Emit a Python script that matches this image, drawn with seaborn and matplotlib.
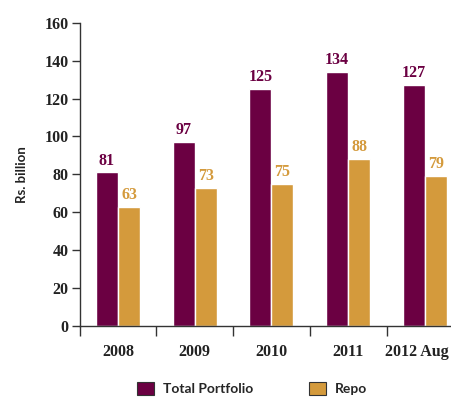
import matplotlib
matplotlib.use('Agg')
from matplotlib import pyplot as plt
from matplotlib.patches import Patch
import pandas as pd
import seaborn as sns

years = ['2008', '2009', '2010', '2011', '2012 Aug']
total_portfolio = [81, 97, 125, 134, 127]
repo = [63, 73, 75, 88, 79]
series_names = ['Total Portfolio', 'Repo']
colors = ['#6b0042', '#d49a3c']

df = pd.DataFrame({
    'Year': years * 2,
    'Value': total_portfolio + repo,
    'Series': [series_names[0]] * 5 + [series_names[1]] * 5,
})

sns.set_style('white')
plt.rcParams['font.family'] = ['Liberation Serif', 'DejaVu Serif']

fig = plt.figure(figsize=(4.51, 3.98), dpi=100)
ax = fig.add_axes([0.1765, 0.181, 0.8235, 0.762])

sns.barplot(data=df, x='Year', y='Value', hue='Series', palette=colors,
            width=0.573, saturation=1, legend=False, ax=ax)

# value labels above bars
for container, col in zip(ax.containers, colors):
    for bar in container:
        h = bar.get_height()
        ax.text(bar.get_x() + bar.get_width() / 2, h + 2, '%d' % h,
                ha='center', va='bottom', color=col, fontsize=11.5, fontweight='bold')

ax.set_ylim(0, 160)
ax.set_xlim(-0.5, 4.34)
ax.set_yticks(range(0, 161, 20))
ax.set_xticks([-0.5, 0.5, 1.5, 2.5, 3.5])
ax.set_xticklabels([])
ax.tick_params(axis='x', bottom=True, length=7, width=1, color='#333333', direction='out')
ax.tick_params(axis='y', left=True, length=6, width=1, color='#333333', direction='out',
               labelsize=11.5, pad=2, labelcolor='#222222')
for lab in ax.get_yticklabels():
    lab.set_fontweight('bold')
# year labels under each group (last one nudged left so it stays inside the figure)
for i, y in enumerate(years):
    xpos = i if i < len(years) - 1 else i - 0.11
    ax.text(xpos, -14, y, ha='center', va='center', fontsize=11.5, fontweight='bold', color='#222222')

for s in ['top', 'right']:
    ax.spines[s].set_visible(False)
for s in ['left', 'bottom']:
    ax.spines[s].set_color('#333333')
    ax.spines[s].set_linewidth(1)
ax.set_xlabel('')
ax.set_ylabel('Rs. billion', fontsize=9.5, fontweight='bold', family=['Lato', 'DejaVu Sans'],
              labelpad=12, color='#222222')

handles = [Patch(facecolor=c, edgecolor='#333333', linewidth=0.8) for c in colors]
fig.legend(handles, series_names, loc='center left', bbox_to_anchor=(0.304, 0.024), ncol=2,
           frameon=False, columnspacing=4.0, handlelength=1.22, handleheight=1.15,
           handletextpad=0.65, borderpad=0, borderaxespad=0,
           prop={'family': 'Lato', 'weight': 'bold', 'size': 10})

fig.savefig('out.png', dpi=100)
